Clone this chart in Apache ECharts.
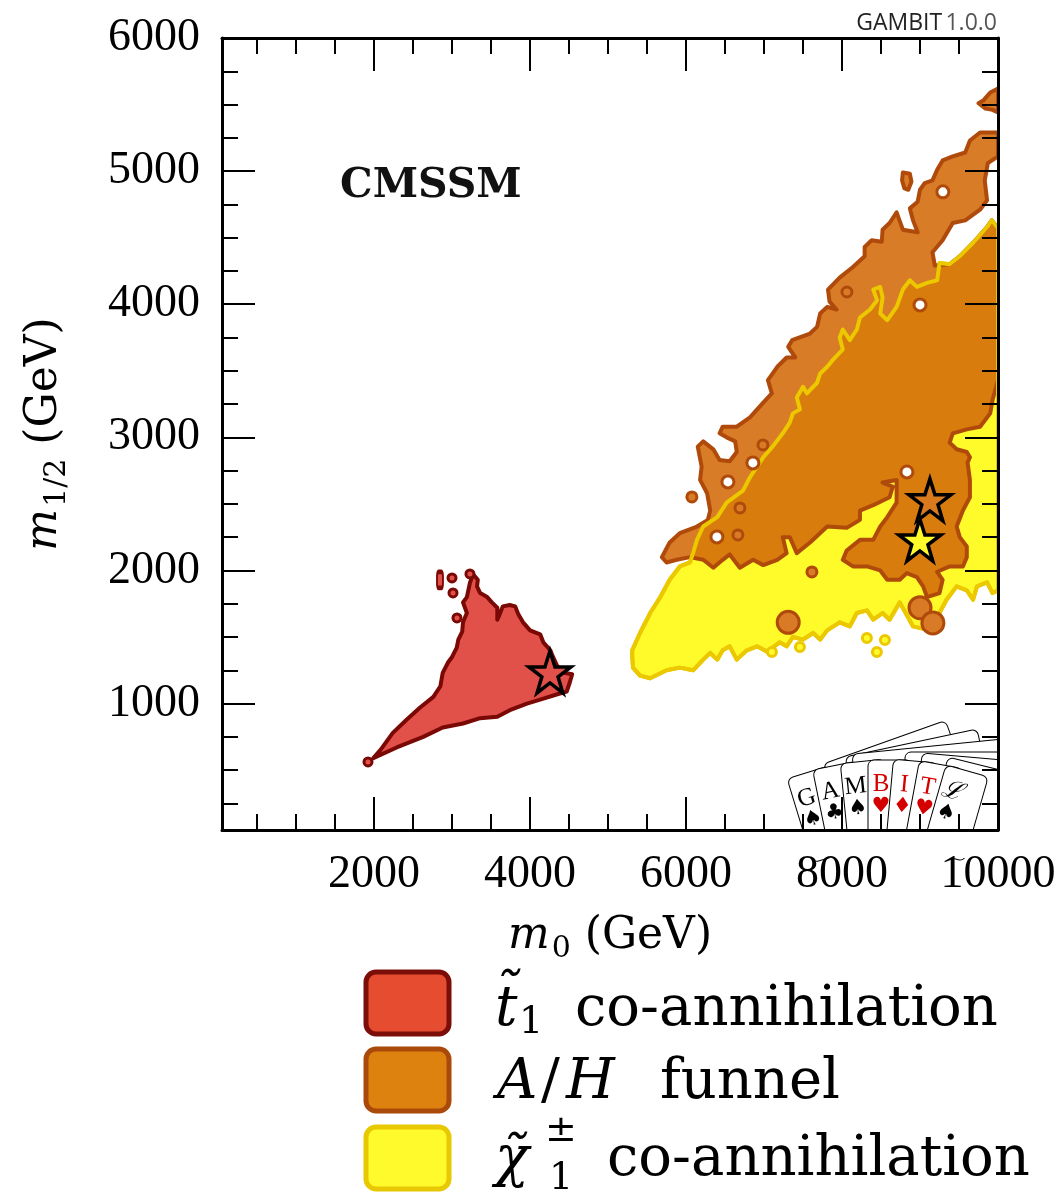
<!DOCTYPE html>
<html><head><meta charset="utf-8">
<script src="https://cdn.jsdelivr.net/npm/echarts@6/dist/echarts.min.js"></script>
<style>html,body{margin:0;padding:0;background:#fff}#c{width:1061px;height:1197px}</style>
</head><body><div id="c"></div>
<script>
// ---------- axis ticks ----------
const xMajorTicks = [2000, 4000, 6000, 8000, 10000];
const xMinorTicks = [500, 1000, 1500, 2500, 3000, 3500, 4500, 5000, 5500, 6500, 7000, 7500, 8500, 9000, 9500];
const yMajorTicks = [1000, 2000, 3000, 4000, 5000, 6000];
const yMinorTicks = [250, 500, 750, 1250, 1500, 1750, 2250, 2500, 2750, 3250, 3500, 3750, 4250, 4500, 4750, 5250, 5500, 5750];

// ---------- regions (m0, m1/2 in GeV) ----------
const stopRegion = [
  [1990,590],[2290,670],[2630,750],[2880,820],[3140,850],[3360,890],[3580,900],[3740,950],[3960,1000],[4130,1030],
  [4350,1070],[4470,1090],[4510,1160],[4540,1220],[4450,1230],[4350,1280],[4280,1370],[4260,1400],[4170,1460],[4130,1520],
  [4000,1550],[3910,1610],[3850,1670],[3810,1730],[3740,1740],[3650,1730],[3610,1670],[3580,1630],[3580,1720],[3510,1760],
  [3450,1800],[3360,1830],[3320,1880],[3330,1930],[3270,1970],[3230,1910],[3190,1800],[3140,1760],[3190,1680],[3140,1610],
  [3130,1540],[3080,1480],[3060,1420],[3000,1350],[2950,1310],[2880,1230],[2850,1130],[2760,1050],[2590,970],[2420,880],
  [2240,780],[2080,650]
];
const funnelRegion = [
  [10000,5290],[9770,5290],[9640,5230],[9580,5140],[9420,5110],[9290,5080],[9220,5010],[9160,4930],[9060,4910],[9000,4860],
  [8970,4770],[8870,4720],[8910,4630],[8970,4540],[8780,4560],[8700,4690],[8610,4610],[8520,4560],[8510,4470],[8380,4480],
  [8290,4430],[8290,4360],[8140,4280],[7970,4200],[7820,4110],[7840,4020],[7930,3960],[7810,3980],[7720,3930],[7680,3830],
  [7590,3780],[7360,3730],[7310,3680],[7400,3600],[7290,3600],[7170,3530],[7050,3430],[7100,3330],[6990,3260],[6820,3150],
  [6650,3080],[6470,3080],[6430,3030],[6520,3000],[6630,2970],[6650,2890],[6560,2820],[6430,2830],[6350,2910],[6220,2970],
  [6150,2930],[6200,2780],[6180,2680],[6270,2580],[6310,2450],[6280,2380],[6140,2330],[5920,2280],[5790,2210],[5690,2100],
  [5750,2060],[5880,2080],[6050,2100],[6220,2080],[6350,2020],[6470,2080],[6560,2120],[6690,2020],[6860,2080],[6990,2040],
  [7170,2080],[7290,2130],[7240,2250],[7330,2250],[7420,2130],[7590,2210],[7810,2330],[8060,2320],[8230,2380],[8230,2450],
  [8400,2490],[8610,2550],[8650,2630],[8520,2660],[8700,2680],[8700,2600],[8700,2510],[8580,2400],[8490,2330],[8400,2230],
  [8230,2230],[8060,2150],[8010,2080],[8140,2030],[8320,2030],[8490,2000],[8580,1930],[8740,1930],[8830,1980],[8960,1950],
  [9040,1880],[9090,1800],[9250,1830],[9290,1930],[9220,1990],[9380,2030],[9550,2030],[9600,2100],[9600,2180],[9510,2250],
  [9470,2330],[9550,2450],[9640,2550],[9640,2680],[9610,2810],[9640,2850],[9600,2890],[9470,2910],[9380,2960],[9420,3030],
  [9600,3060],[9770,3080],[9900,3180],[9930,3280],[10000,3430],[10000,4570],[9920,4630],[9860,4580],[9680,4460],[9510,4360],
  [9380,4300],[9190,4290],[9160,4390],[9290,4480],[9420,4610],[9580,4630],[9770,4710],[9860,4780],[9830,4930],[9870,5060],
  [10000,5110]
];
const funnelIslandTop = [[10000,5620],[9900,5590],[9810,5530],[9750,5510],[9840,5470],[9930,5460],[10000,5440]];
const funnelIslandMid = [[8780,4990],[8870,4980],[8890,4920],[8850,4860],[8800,4870],[8770,4930]];
const charginoRegion = [
  [5310,1350],[5320,1270],[5410,1210],[5540,1190],[5750,1250],[5920,1270],[6090,1250],[6220,1330],[6310,1380],[6400,1330],
  [6470,1400],[6560,1430],[6650,1330],[6780,1400],[6910,1430],[7040,1390],[7200,1460],[7290,1430],[7370,1500],[7500,1480],
  [7630,1530],[7720,1480],[7810,1550],[7970,1610],[8100,1580],[8190,1680],[8320,1700],[8400,1630],[8520,1680],[8610,1630],
  [8740,1760],[8910,1580],[9130,1550],[9340,1780],[9470,1880],[9600,1850],[9680,1780],[9730,1880],[9860,1910],[9930,1830],
  [10000,1850],[10000,4570],[9920,4630],[9860,4580],[9680,4460],[9510,4360],[9380,4300],[9250,4310],[9220,4180],[9090,4160],
  [8960,4130],[8870,4180],[8780,4110],[8700,3980],[8580,3880],[8490,3930],[8520,4050],[8490,4130],[8400,4110],[8450,4030],
  [8360,3960],[8230,3900],[8190,3810],[8100,3730],[8010,3810],[7970,3750],[8010,3660],[7880,3580],[7810,3530],[7720,3480],
  [7680,3410],[7550,3330],[7500,3380],[7420,3300],[7460,3210],[7370,3180],[7330,3110],[7240,3030],[7110,2930],[6990,2850],
  [6910,2780],[6820,2700],[6730,2600],[6520,2510],[6400,2400],[6220,2330],[6140,2230],[6090,2130],[6050,2060],[5920,2030],
  [5790,1930],[5670,1800],[5540,1680],[5410,1530],[5310,1400]
];

// ---------- small islands / holes ----------
const stopDots = [[2999,1944],[3012,1831],[3063,1643],[1922,561],[3229,1974]];
const stopStreaks = [[2845,1929]];
const funnelBlobs = [[7310,1610],[9000,1720],[9165,1606]];
const funnelDots = [[6075,2552],[6691,2470],[6665,2267],[6986,2943],[8063,4092],[7614,1989]];
const funnelHoles = [[6537,2665],[6396,2252],[6857,2808],[9293,4844],[9000,3995],[8832,2740]];
const charginoDots = [[7101,1388],[7460,1425],[8319,1493],[8447,1388],[8550,1478]];

// ---------- best-fit points ----------
const bestStop = [[4255,1237]];
const bestFunnel = [[9127,2530]];
const bestChargino = [[8998,2229]];

// ---------- legend ----------
const legendNames = ['t̃₁ co-annihilation', 'A/H funnel', 'χ̃₁± co-annihilation'];

const C = {
  stopFill: '#E2504A', stopLine: '#7A0804',
  funFill: 'rgba(212,106,10,0.88)', funLine: '#B04A0A',
  chiFill: '#FFFB2B', chiLine: '#EBC800'
};

function regionSeries(name, pts, fill, stroke, z) {
  return {
    type: 'custom', name: name, coordinateSystem: 'cartesian2d', xAxisIndex: 0, yAxisIndex: 0,
    z: z, silent: true, clip: true, data: pts,
    renderItem: function (params, api) {
      if (params.dataIndex !== 0) return null;
      const points = pts.map(function (p) { return api.coord(p); });
      return { type: 'polygon', shape: { points: points },
        style: { fill: fill, stroke: stroke, lineWidth: 4, lineJoin: 'round' } };
    }
  };
}
function dotSeries(name, pts, size, fill, stroke, z, symbol) {
  return { type: 'scatter', name: name, data: pts, symbol: symbol || 'circle', symbolSize: size, z: z, silent: true,
    itemStyle: { color: fill, borderColor: stroke, borderWidth: 3, opacity: 1 } };
}
const starPath = 'path://M50,2 L61.5,37 L98,37 L68.5,58.5 L79.5,94 L50,72 L20.5,94 L31.5,58.5 L2,37 L38.5,37 Z';
function starSeries(name, pts, fill) {
  return { type: 'scatter', name: name, data: pts, symbol: starPath, symbolSize: 42, z: 9, silent: true,
    itemStyle: { color: fill, borderColor: '#000', borderWidth: 3.5, opacity: 1 } };
}

const serif = '"DejaVu Serif"';
function mkX(pos, ticks, len, showLine, showLabel, name) {
  const a = { type: 'value', position: pos, min: 50, max: 10000, z: 10,
    axisLine: { show: showLine, onZero: false, lineStyle: { color: '#000', width: 3 } },
    axisTick: { show: true, inside: true, length: len, customValues: ticks, lineStyle: { color: '#000', width: 2 } },
    axisLabel: { show: showLabel, customValues: ticks, formatter: function (v) { return String(v); },
      fontFamily: '"Liberation Serif"', fontSize: 46, color: '#000', margin: 22 },
    splitLine: { show: false } };
  if (name) {
    a.name = name; a.nameLocation = 'middle'; a.nameGap = 80;
    a.nameTextStyle = { fontFamily: serif, fontSize: 44, color: '#000',
      rich: { i: { fontFamily: serif, fontStyle: 'italic', fontSize: 44 },
              s: { fontFamily: serif, fontSize: 30, padding: [24, 0, 0, 2] } } };
  }
  return a;
}
function mkY(pos, ticks, len, showLine, showLabel, name) {
  const a = { type: 'value', position: pos, min: 50, max: 6000, z: 10,
    axisLine: { show: showLine, onZero: false, lineStyle: { color: '#000', width: 3 } },
    axisTick: { show: true, inside: true, length: len, customValues: ticks, lineStyle: { color: '#000', width: 2 } },
    axisLabel: { show: showLabel, customValues: ticks, formatter: function (v) { return String(v); },
      fontFamily: '"Liberation Serif"', fontSize: 46, color: '#000', margin: 22 },
    splitLine: { show: false } };
  if (name) {
    a.name = name; a.nameLocation = 'middle'; a.nameGap = 150; a.nameRotate = 90;
    a.nameTextStyle = { fontFamily: serif, fontSize: 44, color: '#000',
      rich: { i: { fontFamily: serif, fontStyle: 'italic', fontSize: 44 },
              s: { fontFamily: serif, fontSize: 30, padding: [24, 0, 0, 2] } } };
  }
  return a;
}

// ---------- GAMBIT card logo ----------
const cardLetters = ['G', 'A', 'M', 'B', 'I', 'T', 'ℒ'];
const cardSuits = ['♠', '♣', '♠', '♥', '♦', '♥', '♠'];
const cardRed = [false, false, false, true, true, true, false];
const cardAngles = [17, 11.5, 5.7, 0, -5.2, -10.5, -16];
const backCards = [[823, 764, 19.6, 130], [845, 757, 12, 135], [852, 754, 5.7, 160], [905, 752, 0, 110], [922, 753, -5, 90], [948, 757, -14, 70]];

const graphic = [];
backCards.forEach(function (b) {
  graphic.push({ type: 'rect', x: b[0], y: b[1], rotation: b[2] * Math.PI / 180, z: 5, silent: true,
    shape: { x: 0, y: 0, width: b[3], height: 70, r: 6 }, style: { fill: '#fff', stroke: '#000', lineWidth: 1 } });
});
cardLetters.forEach(function (L, i) {
  const col = cardRed[i] ? '#D40000' : '#000';
  graphic.push({ type: 'group', x: 890, y: 1040, rotation: cardAngles[i] * Math.PI / 180, z: 5, silent: true,
    children: [
      { type: 'rect', z: 5, shape: { x: -22, y: -280, width: 44, height: 88, r: 6 }, style: { fill: '#fff', stroke: '#000', lineWidth: 1 } },
      { type: 'text', z: 5, x: -9, y: -268, style: { text: L, fill: col, fontFamily: '"Liberation Serif"', fontStyle: i === 6 ? 'italic' : 'normal', fontSize: 25, align: 'center', verticalAlign: 'top', textAlign: 'center', textVerticalAlign: 'top' } },
      { type: 'text', z: 5, x: -9, y: -244, style: { text: cardSuits[i], fill: col, fontFamily: '"DejaVu Sans"', fontSize: 21, align: 'center', verticalAlign: 'top', textAlign: 'center', textVerticalAlign: 'top' } }
    ] });
});
// covers outside the plot frame for the logo
graphic.push({ type: 'rect', z: 6, silent: true, shape: { x: 760, y: 832, width: 240, height: 26 }, style: { fill: '#fff' } });
graphic.push({ type: 'rect', z: 6, silent: true, shape: { x: 1000, y: 690, width: 61, height: 160 }, style: { fill: '#fff' } });

// texts
graphic.push({ type: 'text', z: 12, x: 997, y: 23, silent: true,
  style: { text: '{a|GAMBIT} {b|1.0.0}', align: 'right', verticalAlign: 'middle', textAlign: 'right', textVerticalAlign: 'middle',
    rich: { a: { fontFamily: '"Open Sans"', fontSize: 23, fill: '#222', color: '#222' }, b: { fontFamily: '"Open Sans"', fontSize: 23, fill: '#555', color: '#555' } } } });
graphic.push({ type: 'text', z: 12, x: 340, y: 186, silent: true,
  style: { text: 'CMSSM', fill: '#111', fontFamily: serif, fontWeight: 'bold', fontSize: 41, align: 'left', verticalAlign: 'middle', textAlign: 'left', textVerticalAlign: 'middle' } });

// legend
const legendBoxes = [
  { y: 972, fill: '#E64C30', stroke: '#7B0E08' },
  { y: 1049, fill: '#DD820F', stroke: '#AA4A0A' },
  { y: 1127, fill: '#FFFA2B', stroke: '#E8C800' }
];
legendBoxes.forEach(function (b) {
  graphic.push({ type: 'rect', z: 12, silent: true, shape: { x: 366, y: b.y, width: 83, height: 62, r: 10 },
    style: { fill: b.fill, stroke: b.stroke, lineWidth: 5 } });
});
function lt(x, y, text, size, italic) {
  graphic.push({ type: 'text', z: 12, x: x, y: y, silent: true,
    style: { text: text, fill: '#000', fontFamily: serif, fontStyle: italic ? 'italic' : 'normal', fontSize: size,
      align: 'left', verticalAlign: 'top', textAlign: 'left', textVerticalAlign: 'top' } });
}
// row 1 (baseline ~1025)
lt(495, 982, 't\u0303', 56, true); lt(519, 1004, '1', 38, false); lt(575, 982, 'co-annihilation', 56, false);
// row 2 (baseline ~1098)
lt(497, 1055, 'A', 56, true); lt(541, 1055, '/', 56, false); lt(566, 1055, 'H', 56, true); lt(660, 1055, 'funnel', 56, false);
// row 3 (baseline ~1175)
lt(495, 1132, '\u03C7\u0303', 56, true); lt(545, 1112, '±', 38, false); lt(549, 1160, '1', 38, false); lt(607, 1132, 'co-annihilation', 56, false);

const option = {
  animation: false,
  backgroundColor: '#fff',
  grid: { left: 222, right: 63, top: 38, bottom: 367 },
  xAxis: [
    mkX('bottom', xMajorTicks, 33, true, true, '{i|m}{s|0} (GeV)'),
    mkX('bottom', xMinorTicks, 16, false, false),
    mkX('top', xMajorTicks, 33, true, false),
    mkX('top', xMinorTicks, 16, false, false)
  ],
  yAxis: [
    mkY('left', yMajorTicks, 33, true, true, '{i|m}{s|1/2} (GeV)'),
    mkY('left', yMinorTicks, 16, false, false),
    mkY('right', yMajorTicks, 33, true, false),
    mkY('right', yMinorTicks, 16, false, false)
  ],
  series: [
    regionSeries(legendNames[2], charginoRegion, C.chiFill, C.chiLine, 2),
    regionSeries(legendNames[1], funnelRegion, C.funFill, C.funLine, 3),
    regionSeries('funnel island top', funnelIslandTop, C.funFill, C.funLine, 3),
    regionSeries('funnel island mid', funnelIslandMid, C.funFill, C.funLine, 3),
    regionSeries('chargino contour', charginoRegion, 'none', C.chiLine, 4),
    regionSeries(legendNames[0], stopRegion, C.stopFill, C.stopLine, 3),
    dotSeries('funnel blobs', funnelBlobs, 22, '#D87A26', C.funLine, 5),
    dotSeries('funnel dots', funnelDots, 10, '#D87A26', C.funLine, 5),
    dotSeries('funnel holes', funnelHoles, 12, '#fff', C.funLine, 5),
    dotSeries('chargino dots', charginoDots, 9, C.chiFill, C.chiLine, 5),
    dotSeries('stop dots', stopDots, 8, C.stopFill, C.stopLine, 5),
    dotSeries('stop streaks', stopStreaks, [6, 16], C.stopFill, C.stopLine, 5, 'roundRect'),
    starSeries('best fit stop', bestStop, C.stopFill),
    starSeries('best fit funnel', bestFunnel, '#D97A1E'),
    starSeries('best fit chargino', bestChargino, C.chiFill)
  ],
  graphic: graphic
};
const chart = echarts.init(document.getElementById('c'), null, { renderer: 'canvas' });
chart.setOption(option);
</script>
</body></html>
